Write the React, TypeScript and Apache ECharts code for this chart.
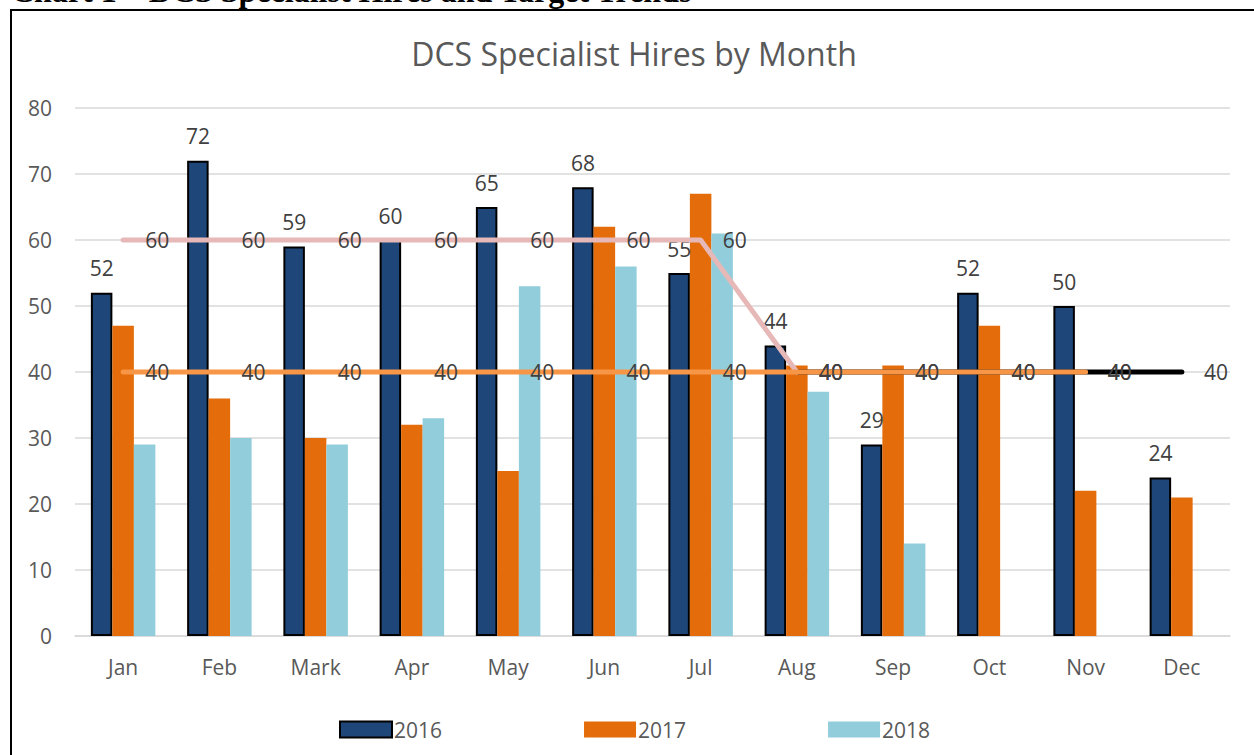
import React, { useEffect, useRef } from "react";
import * as echarts from "echarts";

const months = ["Jan", "Feb", "Mark", "Apr", "May", "Jun", "Jul", "Aug", "Sep", "Oct", "Nov", "Dec"];
const hires2016 = [52, 72, 59, 60, 65, 68, 55, 44, 29, 52, 50, 24];
const hires2017 = [47, 36, 30, 32, 25, 62, 67, 41, 41, 47, 22, 21];
const hires2018 = [29, 30, 29, 33, 53, 56, 61, 37, 14, null, null, null];
const targetPink = [60, 60, 60, 60, 60, 60, 60, 40, null, null, null, null];
const targetOrange = [40, 40, 40, 40, 40, 40, 40, 40, 40, 40, 40, null];
const targetBlack = [null, null, null, null, null, null, null, 40, 40, 40, 40, 40];
const yTicks = { min: 0, max: 80, interval: 10 };

const FONT = "'Open Sans', 'Noto Sans', sans-serif";
const FS = 21;

export default function App() {
  const ref = useRef<HTMLDivElement>(null);
  useEffect(() => {
    if (!ref.current) return;
    const chart = echarts.init(ref.current, null, { renderer: "svg" });
    const lineLabel = {
      show: true,
      position: "right",
      distance: 21,
      fontSize: FS,
      fontFamily: FONT,
      color: "#404040",
    };
    const lineCommon = {
      type: "line",
      symbol: "circle",
      symbolSize: 2,
      itemStyle: { color: "transparent", borderWidth: 0 },
      label: lineLabel,
      connectNulls: false,
    };
    chart.setOption({
      animation: false,
      backgroundColor: "#ffffff",
      textStyle: { fontFamily: FONT },
      grid: { left: 75, right: 24, top: 108, bottom: 119, containLabel: false },
      graphic: [
        {
          type: "rect",
          shape: { x: 11, y: 10, width: 1300, height: 800 },
          style: { fill: "none", stroke: "#000", lineWidth: 2 },
          z: 0,
        },
        {
          type: "text",
          x: 11,
          y: 7,
          style: {
            text: "Chart 1 – DCS Specialist Hires and Target Trends",
            font: "bold 32px 'Liberation Serif', 'Times New Roman', serif",
            fill: "#000",
            verticalAlign: "bottom",
            align: "left",
          },
        },
        {
          type: "text",
          x: 634,
          y: 53,
          style: {
            text: "DCS Specialist Hires by Month",
            font: `32px ${FONT}`,
            fill: "#595959",
            align: "center",
            verticalAlign: "middle",
          },
        },
      ],
      legend: {
        data: ["2016", "2017", "2018"],
        left: 339,
        top: 719,
        padding: 0,
        icon: "rect",
        itemWidth: 52,
        itemHeight: 16,
        itemGap: 142,
        textStyle: { fontSize: FS, color: "#595959", fontFamily: FONT, padding: [0, 0, 0, -3] },
      },
      xAxis: {
        type: "category",
        data: months,
        axisLine: { show: true, lineStyle: { color: "#D9D9D9", width: 1.5 } },
        axisTick: { show: false },
        axisLabel: { fontSize: FS, color: "#595959", margin: 20, fontFamily: FONT },
      },
      yAxis: {
        type: "value",
        min: yTicks.min,
        max: yTicks.max,
        interval: yTicks.interval,
        axisLine: { show: false },
        axisTick: { show: false },
        splitLine: { lineStyle: { color: "#D9D9D9", width: 1.5 } },
        axisLabel: { fontSize: FS, color: "#595959", margin: 23, fontFamily: FONT },
      },
      series: [
        {
          name: "2016",
          type: "bar",
          data: hires2016,
          barWidth: 21.5,
          barGap: "0%",
          itemStyle: { color: "#1F4678", borderColor: "#000", borderWidth: 2 },
          label: {
            show: true,
            position: "top",
            distance: 14,
            fontSize: FS,
            color: "#404040",
            fontFamily: FONT,
          },
          z: 2,
        },
        {
          name: "2017",
          type: "bar",
          data: hires2017,
          barWidth: 21.5,
          barGap: "0%",
          itemStyle: { color: "#E46C0A" },
          z: 2,
        },
        {
          name: "2018",
          type: "bar",
          data: hires2018,
          barWidth: 21.5,
          barGap: "0%",
          itemStyle: { color: "#92CDDC" },
          z: 2,
        },
        {
          ...lineCommon,
          name: "Target B",
          data: targetBlack,
          lineStyle: { color: "#000000", width: 5, cap: "round" },
          z: 3,
        },
        {
          ...lineCommon,
          name: "Target A",
          data: targetPink,
          lineStyle: { color: "#E6B9B8", width: 5, cap: "round", join: "round" },
          z: 4,
        },
        {
          ...lineCommon,
          name: "Target C",
          data: targetOrange,
          lineStyle: { color: "#F79646", width: 5, cap: "round" },
          z: 5,
        },
      ],
    });
    return () => chart.dispose();
  }, []);
  return (
    <div
      ref={ref}
      style={{ position: "fixed", left: 0, top: 0, width: 1254, height: 755, background: "#fff" }}
    />
  );
}
